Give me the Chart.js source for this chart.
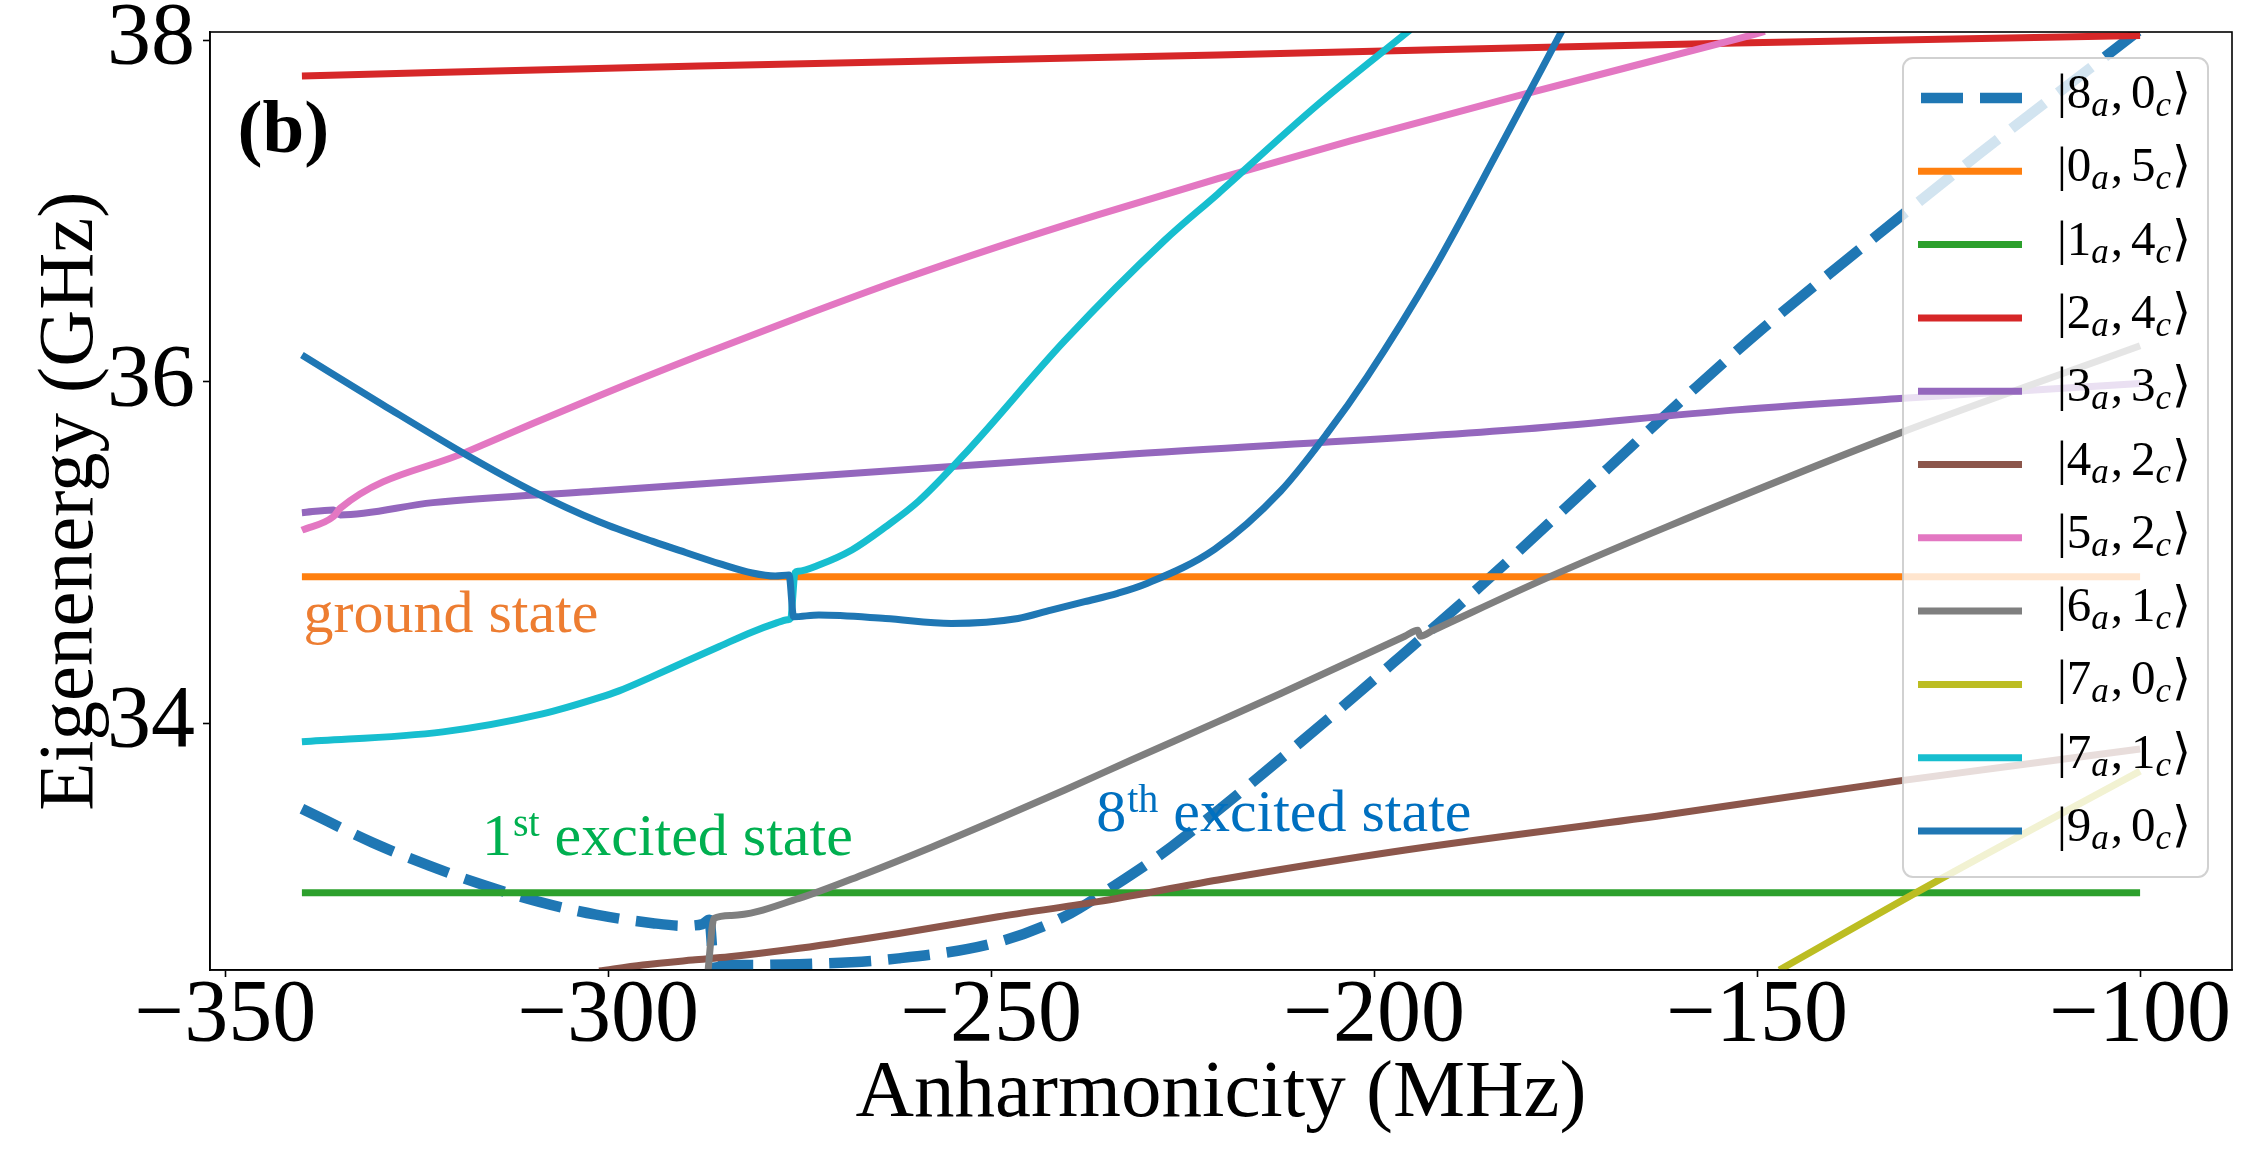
<!DOCTYPE html>
<html>
<head>
<meta charset="utf-8">
<script src="https://cdn.jsdelivr.net/npm/chart.js@4.4.0/dist/chart.umd.min.js"></script>
<style>
  html, body { margin: 0; padding: 0; background: #fff; }
  canvas { display: block; }
</style>
</head>
<body>
<canvas id="levels" width="2262" height="1157"></canvas>
<script>
// values (anharmonicity in MHz, energy in GHz)
const xTicks = [-350, -300, -250, -200, -150, -100];
const yTicks = [34, 36, 38];

const stateA = ['8', '0', '1', '2', '3', '4', '5', '6', '7', '7', '9'];
const stateC = ['0', '5', '4', '4', '3', '2', '2', '1', '0', '1', '0'];

const x_8a0c = [-340, -330.7, -323.3, -316.4, -309.0, -301.6, -294.2, -290.3, -287.7, -286.8, -286.2, -275.1, -262.1, -249.1, -240.4, -233.9, -226.5, -209.6, -196.6, -186.2, -173.6, -164.5, -157.9, -149.3, -138.4, -121.1, -100];
const y_8a0c = [33.50, 33.30, 33.165, 33.055, 32.955, 32.88, 32.83, 32.815, 32.825, 32.85, 32.585, 32.59, 32.624, 32.72, 32.87, 33.05, 33.277, 33.89, 34.39, 34.80, 35.32, 35.70, 35.97, 36.31, 36.71, 37.33, 38.06];

const x_0a5c = [-340, -100];
const y_0a5c = [34.858, 34.858];

const x_1a4c = [-340, -100];
const y_1a4c = [33.008, 33.008];

const x_2a4c = [-340, -288.2, -220.4, -152.7, -100];
const y_2a4c = [37.79, 37.848, 37.913, 37.983, 38.026];

const x_3a3c = [-340, -335.9, -335.0, -322.9, -301.2, -233.5, -181.8, -152.7, -131.9, -100];
const y_3a3c = [35.233, 35.249, 35.22, 35.292, 35.36, 35.571, 35.718, 35.835, 35.90, 35.99];

const x_4a2c = [-301.2, -295.5, -289.0, -284.2, -275.1, -262.1, -249.1, -236.1, -220.4, -195.7, -161.8, -131.9, -100];
const y_4a2c = [32.55, 32.585, 32.614, 32.633, 32.683, 32.77, 32.868, 32.956, 33.083, 33.26, 33.465, 33.66, 33.85];

const x_5a2c = [-340, -335.9, -335.0, -318.5, -301.2, -288.2, -275.1, -262.1, -249.1, -236.1, -220.4, -203.1, -181.4, -152.7, -149.0];
const y_5a2c = [35.131, 35.21, 35.259, 35.589, 35.918, 36.152, 36.377, 36.592, 36.791, 36.977, 37.189, 37.409, 37.672, 38.005, 38.05];

const x_6a1c = [-287.0, -286.2, -283.9, -275.1, -266.4, -257.8, -249.1, -240.4, -231.7, -220.4, -212.2, -196.0, -194.3, -194.0, -192.3, -177.5, -161.8, -131.9, -100];
const y_6a1c = [32.54, 32.858, 32.875, 32.975, 33.12, 33.275, 33.44, 33.61, 33.785, 34.01, 34.175, 34.51, 34.545, 34.51, 34.545, 34.85, 35.15, 35.69, 36.21];

const x_7a0c = [-147.1, -127.6, -100];
const y_7a0c = [32.556, 33.05, 33.72];

const x_7a1c = [-340, -321.6, -308.6, -301.2, -298.6, -294.2, -289.9, -285.5, -281.2, -278.2, -276.6, -276.2, -275.6, -275.2, -272.5, -268.2, -263.8, -259.5, -253.0, -240.4, -227.3, -220.4, -207.4, -195.3];
const y_7a1c = [33.892, 33.95, 34.055, 34.15, 34.19, 34.275, 34.362, 34.45, 34.535, 34.585, 34.606, 34.614, 34.882, 34.89, 34.927, 35.015, 35.15, 35.30, 35.60, 36.24, 36.83, 37.10, 37.62, 38.06];

const x_9a0c = [-340, -329.4, -318.5, -309.9, -301.2, -294.2, -289.9, -285.5, -281.2, -278.2, -276.4, -275.8, -272.5, -263.8, -255.2, -246.5, -242.2, -237.8, -233.5, -229.6, -220.8, -212.2, -206.1, -200.9, -192.2, -183.6, -175.3];
const y_9a0c = [36.156, 35.864, 35.571, 35.36, 35.18, 35.065, 35.0, 34.935, 34.88, 34.862, 34.868, 34.624, 34.634, 34.614, 34.585, 34.614, 34.663, 34.712, 34.761, 34.82, 35.02, 35.36, 35.70, 36.03, 36.66, 37.37, 38.07];

const seriesX = [x_8a0c, x_0a5c, x_1a4c, x_2a4c, x_3a3c, x_4a2c, x_5a2c, x_6a1c, x_7a0c, x_7a1c, x_9a0c];
const seriesY = [y_8a0c, y_0a5c, y_1a4c, y_2a4c, y_3a3c, y_4a2c, y_5a2c, y_6a1c, y_7a0c, y_7a1c, y_9a0c];

// styling
const lineColors = ['#1f77b4', '#ff7f0e', '#2ca02c', '#d62728', '#9467bd', '#8c564b',
                    '#e377c2', '#7f7f7f', '#bcbd22', '#17becf', '#1f77b4'];
const DASH = [42, 17];
const serif = "'Liberation Serif', 'Times New Roman', serif";

const datasets = seriesX.map((xs, i) => ({
  label: '|' + stateA[i] + 'a, ' + stateC[i] + 'c\u27e9',
  data: xs.map((x, k) => ({x: x, y: seriesY[i][k]})),
  borderColor: lineColors[i],
  borderWidth: i === 0 ? 10.5 : 7,
  borderDash: i === 0 ? DASH : [],
  borderCapStyle: 'butt',
  borderJoinStyle: 'round',
  cubicInterpolationMode: 'monotone',
  pointRadius: 0,
  pointHoverRadius: 0,
  fill: false,
  clip: 0,
  order: seriesX.length - i   // first series at the bottom, like matplotlib
}));

const fmtTick = v => (v < 0 ? '\u2212' + Math.abs(v) : String(v));

// text in the plot area
const notesPlugin = {
  id: 'notes',
  afterDatasetsDraw(chart) {
    const {ctx, scales: {x, y}} = chart;
    ctx.save();
    ctx.textBaseline = 'alphabetic';
    ctx.textAlign = 'left';

    ctx.fillStyle = '#000';
    ctx.font = 'bold 75px ' + serif;
    ctx.fillText('(b)', x.getPixelForValue(-348.4), y.getPixelForValue(37.345));

    ctx.fillStyle = '#ed7d31';
    ctx.font = '60px ' + serif;
    ctx.fillText('ground state', x.getPixelForValue(-339.8), y.getPixelForValue(34.535));

    const sup = (main, s, rest, px, py, color) => {
      ctx.fillStyle = color;
      ctx.font = '60px ' + serif;
      ctx.fillText(main, px, py);
      px += ctx.measureText(main).width + 1;
      ctx.font = '40px ' + serif;
      ctx.fillText(s, px, py - 19);
      px += ctx.measureText(s).width;
      ctx.font = '60px ' + serif;
      ctx.fillText(rest, px, py);
    };
    sup('1', 'st', ' excited state', x.getPixelForValue(-316.5), y.getPixelForValue(33.229), '#00b050');
    sup('8', 'th', ' excited state', x.getPixelForValue(-236.3), y.getPixelForValue(33.37), '#0070c0');
    ctx.restore();
  }
};

// legend box in the upper right of the axes
const legendPlugin = {
  id: 'ketLegend',
  afterDatasetsDraw(chart) {
    const {ctx, chartArea: area} = chart;
    const L = area.right - 329, T = area.top + 26, R = area.right - 24, B = area.top + 845;
    ctx.save();
    ctx.beginPath();
    ctx.roundRect(L, T, R - L, B - T, 10);
    ctx.fillStyle = 'rgba(255,255,255,0.8)';
    ctx.fill();
    ctx.lineWidth = 2;
    ctx.strokeStyle = 'rgba(204,204,204,0.9)';
    ctx.stroke();

    const rowH = 73.3;
    chart.data.datasets.forEach((ds, i) => {
      const cy = T + 40 + i * rowH;
      ctx.beginPath();
      ctx.setLineDash(ds.borderDash);
      ctx.lineCap = 'butt';
      ctx.lineWidth = ds.borderWidth;
      ctx.strokeStyle = ds.borderColor;
      ctx.moveTo(L + 15 + (i === 0 ? 3 : 0), cy);
      ctx.lineTo(L + 119, cy);
      ctx.stroke();
      ctx.setLineDash([]);

      // |n_a, m_c>
      let tx = L + 154;
      const base = cy + 10;
      ctx.fillStyle = '#000';
      ctx.textBaseline = 'alphabetic';
      ctx.textAlign = 'left';
      const big = '49px ' + serif, small = 'italic 35px ' + serif;
      ctx.font = big; ctx.fillText('|', tx, base); tx += ctx.measureText('|').width;
      ctx.fillText(stateA[i], tx, base); tx += ctx.measureText(stateA[i]).width;
      ctx.font = small; ctx.fillText('a', tx, base + 8); tx += ctx.measureText('a').width + 2;
      ctx.font = big; ctx.fillText(',', tx, base); tx += ctx.measureText(',').width + 8;
      ctx.fillText(stateC[i], tx, base); tx += ctx.measureText(stateC[i]).width;
      ctx.font = small; ctx.fillText('c', tx, base + 8); tx += ctx.measureText('c').width + 1;
      ctx.font = "49px 'DejaVu Serif', " + serif; ctx.fillText('\u27e9', tx, base);
    });
    ctx.restore();
  }
};

// full box around the axes
const framePlugin = {
  id: 'frame',
  afterDraw(chart) {
    const {ctx, chartArea: a} = chart;
    ctx.save();
    ctx.strokeStyle = '#000';
    ctx.lineWidth = 1.6;
    ctx.strokeRect(a.left, a.top, a.right - a.left, a.bottom - a.top);
    ctx.restore();
  }
};

new Chart(document.getElementById('levels'), {
  type: 'line',
  data: {datasets: datasets},
  plugins: [notesPlugin, legendPlugin, framePlugin],
  options: {
    responsive: false,
    animation: false,
    events: [],
    layout: {padding: {left: 0, right: 30, top: 32, bottom: 0}},
    plugins: {legend: {display: false}, tooltip: {enabled: false}},
    scales: {
      x: {
        type: 'linear',
        min: -352, max: -88,
        afterBuildTicks: s => { s.ticks = xTicks.map(v => ({value: v})); },
        afterFit: s => { s.height = 187; s.paddingLeft = 0; s.paddingRight = 0; },
        ticks: {color: '#000', autoSkip: false, maxRotation: 0, padding: 0,
                font: {family: serif, size: 88, lineHeight: 0.9}, callback: fmtTick},
        grid: {drawOnChartArea: false, drawTicks: true, tickLength: 7, tickWidth: 1.6, tickColor: '#000'},
        border: {display: true, color: '#000', width: 1.6},
        title: {display: true, text: 'Anharmonicity (MHz)', color: '#000',
                font: {family: serif, size: 81}, padding: {top: 0, bottom: 14}}
      },
      y: {
        type: 'linear',
        min: 32.556, max: 38.047,
        afterBuildTicks: s => { s.ticks = yTicks.map(v => ({value: v})); },
        afterFit: s => { s.width = 210; s.paddingTop = 0; s.paddingBottom = 0; },
        ticks: {color: '#000', padding: 8, font: {family: serif, size: 88}, callback: fmtTick},
        grid: {drawOnChartArea: false, drawTicks: true, tickLength: 7, tickWidth: 1.6, tickColor: '#000'},
        border: {display: true, color: '#000', width: 1.6},
        title: {display: true, text: 'Eigenenergy (GHz)', color: '#000',
                font: {family: serif, size: 79}, padding: {top: 24, bottom: 0}}
      }
    }
  }
});
</script>
</body>
</html>
